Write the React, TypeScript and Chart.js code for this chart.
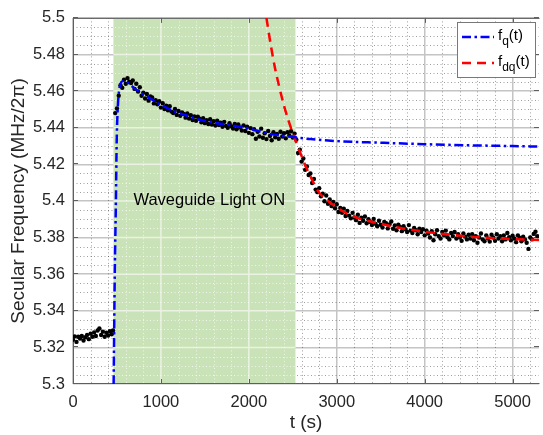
import React, { useEffect, useRef } from 'react';
import { Chart, registerables } from 'chart.js';

Chart.register(...registerables);

// ---------- axes ----------
const xRange = [0, 5300];
const yRange = [5.3, 5.5];
const xTicks = [0, 1000, 2000, 3000, 4000, 5000];
const xTickLabels = ['0', '1000', '2000', '3000', '4000', '5000'];
const yTicks = [5.3, 5.32, 5.34, 5.36, 5.38, 5.4, 5.42, 5.44, 5.46, 5.48, 5.5];
const yTickLabels = ['5.3', '5.32', '5.34', '5.36', '5.38', '5.4', '5.42', '5.44', '5.46', '5.48', '5.5'];
const xMinorStep = 200;
const yMinorStep = 0.005;
const xTitle = 't (s)';
const yTitle = 'Secular Frequency (MHz/2π)';

// ---------- light-on window ----------
const lightOnWindow = [460, 2530];
const lightLabel = 'Waveguide Light ON';
const lightLabelPos = [1550, 5.4];

// ---------- fit f_q(t) ----------
const fqT = [462, 475, 488, 496, 507, 530, 565, 600, 650, 700, 790, 870, 1000, 1170, 1300, 1430, 1600, 1800, 2000, 2200, 2350, 2530, 2700, 3000, 3500, 4000, 4500, 5000, 5300];
const fqF = [5.300, 5.360, 5.400, 5.430, 5.4486, 5.4620, 5.4654, 5.4650, 5.4635, 5.4615, 5.4584, 5.4562, 5.4525, 5.4486, 5.4465, 5.4445, 5.4428, 5.4413, 5.4395, 5.4370, 5.4358, 5.4348, 5.4338, 5.4327, 5.4318, 5.4310, 5.4304, 5.4300, 5.4297];

// ---------- fit f_dq(t) ----------
const fdqT = [2200, 2250, 2300, 2350, 2400, 2450, 2500, 2550, 2600, 2650, 2700, 2750, 2800, 2900, 3000, 3100, 3250, 3500, 3750, 4000, 4250, 4500, 4750, 5000, 5300];
const fdqF = [5.5000, 5.4850, 5.4720, 5.4615, 5.4520, 5.4440, 5.4370, 5.4305, 5.4245, 5.4185, 5.4135, 5.4085, 5.4045, 5.4000, 5.3965, 5.3935, 5.3905, 5.3875, 5.3850, 5.3832, 5.3818, 5.3806, 5.3798, 5.3792, 5.3787];

// ---------- measured data (before light on) ----------
const preT = [0, 20, 40, 60, 80, 100, 120, 140, 160, 180, 200, 220, 240, 260, 280, 300, 320, 340, 360, 380, 400, 420, 440, 455];
const preF = [5.3242, 5.3260, 5.3230, 5.3258, 5.3248, 5.3262, 5.3238, 5.3255, 5.3268, 5.3245, 5.3275, 5.3258, 5.3282, 5.3262, 5.3292, 5.3303, 5.3268, 5.3286, 5.3258, 5.3280, 5.3265, 5.3288, 5.3272, 5.3292];

// ---------- measured data (light on) ----------
const onT = [480, 500, 520, 540, 560, 580, 600, 620, 640, 660, 680, 700, 720, 740, 760, 780, 800, 820, 840, 860, 880, 900, 920, 940, 960, 980,
  1000, 1020, 1040, 1060, 1080, 1100, 1120, 1140, 1160, 1180, 1200, 1220, 1240, 1260, 1280, 1300, 1320, 1340, 1360, 1380,
  1400, 1420, 1440, 1460, 1480, 1500, 1520, 1540, 1560, 1580, 1600, 1620, 1640, 1660, 1680, 1700, 1720, 1740, 1760, 1780,
  1800, 1820, 1840, 1860, 1880, 1900, 1920, 1940, 1960, 1980, 2000, 2020, 2040, 2060, 2080, 2100, 2120, 2140, 2160, 2180,
  2200, 2220, 2240, 2260, 2280, 2300, 2320, 2340, 2360, 2380, 2400, 2420, 2440, 2460, 2480, 2500, 2520];
const onF = [5.4480, 5.4505, 5.4575, 5.4632, 5.4618, 5.4662, 5.4640, 5.4671, 5.4652, 5.4644, 5.4658, 5.4612, 5.4640, 5.4598, 5.4621, 5.4575, 5.4592, 5.4560, 5.4584, 5.4548, 5.4571, 5.4565, 5.4533, 5.4550, 5.4528, 5.4545,
  5.4510, 5.4534, 5.4502, 5.4520, 5.4495, 5.4518, 5.4488, 5.4480, 5.4502, 5.4470, 5.4491, 5.4465, 5.4484, 5.4475, 5.4455, 5.4478, 5.4450, 5.4468, 5.4442, 5.4461,
  5.4438, 5.4460, 5.4449, 5.4430, 5.4452, 5.4425, 5.4441, 5.4420, 5.4447, 5.4418, 5.4435, 5.4412, 5.4439, 5.4415, 5.4428, 5.4405, 5.4432, 5.4410, 5.4400, 5.4425,
  5.4408, 5.4396, 5.4420, 5.4392, 5.4418, 5.4401, 5.4385, 5.4412, 5.4382, 5.4406, 5.4372, 5.4398, 5.4365, 5.4392, 5.4340, 5.4378, 5.4352, 5.4395, 5.4345, 5.4370,
  5.4338, 5.4382, 5.4355, 5.4332, 5.4375, 5.4348, 5.4366, 5.4340, 5.4378, 5.4352, 5.4370, 5.4342, 5.4375, 5.4358, 5.4381, 5.4347, 5.4368];

// ---------- measured data (after light off) ----------
const postT = [2540, 2560, 2580, 2600, 2620, 2640, 2660, 2680, 2700, 2720, 2740, 2760, 2780, 2800, 2820, 2840, 2860, 2880, 2900, 2920, 2940, 2960, 2980,
  3000, 3020, 3040, 3060, 3080, 3100, 3120, 3140, 3160, 3180, 3200, 3220, 3240, 3260, 3280, 3300, 3320, 3340, 3360, 3380,
  3400, 3420, 3440, 3460, 3480, 3500, 3520, 3540, 3560, 3580, 3600, 3620, 3640, 3660, 3680, 3700, 3720, 3740, 3760, 3780,
  3800, 3820, 3840, 3860, 3880, 3900, 3920, 3940, 3960, 3980, 4000, 4020, 4040, 4060, 4080, 4100, 4120, 4140, 4160, 4180,
  4200, 4220, 4240, 4260, 4280, 4300, 4320, 4340, 4360, 4380, 4400, 4420, 4440, 4460, 4480, 4500, 4520, 4540, 4560, 4580,
  4600, 4620, 4640, 4660, 4680, 4700, 4720, 4740, 4760, 4780, 4800, 4820, 4840, 4860, 4880, 4900, 4920, 4940, 4960, 4980,
  5000, 5020, 5040, 5060, 5080, 5100, 5120, 5140, 5160, 5180, 5200, 5220, 5240, 5260, 5280];
const postF = [5.4335, 5.4262, 5.4280, 5.4215, 5.4232, 5.4170, 5.4188, 5.4142, 5.4150, 5.4098, 5.4120, 5.4062, 5.4048, 5.4070, 5.4025, 5.4040, 5.3998, 5.4030, 5.3985, 5.4008, 5.3972, 5.3995, 5.3960,
  5.3982, 5.3940, 5.3962, 5.3935, 5.3958, 5.3918, 5.3945, 5.3920, 5.3905, 5.3935, 5.3910, 5.3895, 5.3925, 5.3880, 5.3908, 5.3892, 5.3915, 5.3878, 5.3900, 5.3885,
  5.3868, 5.3902, 5.3875, 5.3862, 5.3892, 5.3870, 5.3855, 5.3885, 5.3878, 5.3850, 5.3872, 5.3888, 5.3848, 5.3866, 5.3840, 5.3870, 5.3858, 5.3835, 5.3862, 5.3845,
  5.3830, 5.3868, 5.3838, 5.3825, 5.3852, 5.3840, 5.3818, 5.3848, 5.3830, 5.3845, 5.3812, 5.3838, 5.3822, 5.3800, 5.3835, 5.3785, 5.3818, 5.3840, 5.3808, 5.3795,
  5.3830, 5.3812, 5.3838, 5.3802, 5.3790, 5.3825, 5.3808, 5.3830, 5.3795, 5.3818, 5.3800, 5.3782, 5.3822, 5.3805, 5.3790, 5.3815, 5.3795, 5.3818, 5.3785, 5.3808,
  5.3772, 5.3800, 5.3822, 5.3790, 5.3780, 5.3812, 5.3795, 5.3778, 5.3815, 5.3800, 5.3782, 5.3818, 5.3795, 5.3808, 5.3780, 5.3812, 5.3790, 5.3825, 5.3802, 5.3785,
  5.3810, 5.3795, 5.3775, 5.3812, 5.3798, 5.3780, 5.3805, 5.3790, 5.3772, 5.3738, 5.3800, 5.3790, 5.3820, 5.3832, 5.3808];

// ---------- legend ----------
const legendEntries = [
  { main: 'f', sub: 'q', tail: '(t)', color: '#0000ff', dash: [9, 3.5, 2.5, 3.5] },
  { main: 'f', sub: 'dq', tail: '(t)', color: '#ff0000', dash: [9, 6] },
];

const FONT = "'Liberation Sans', Arial, Helvetica, sans-serif";
const toPts = (t: number[], f: number[]) => t.map((v, i) => ({ x: v, y: f[i] }));

const decorPlugin = {
  id: 'decor',
  beforeDatasetsDraw(chart: any) {
    const { ctx, chartArea: a, scales } = chart;
    const x = scales.x;
    const y = scales.y;
    const drawMinor = (color: string) => {
      ctx.save();
      ctx.strokeStyle = color;
      ctx.lineWidth = 1;
      ctx.setLineDash([1, 2.5]);
      ctx.beginPath();
      const nx = Math.round((xRange[1] - xRange[0]) / xMinorStep);
      for (let k = 1; k <= nx; k++) {
        if (k % 5 === 0) continue;
        const px = Math.round(x.getPixelForValue(xRange[0] + k * xMinorStep)) + 0.5;
        if (px >= a.right) continue;
        ctx.moveTo(px, a.top);
        ctx.lineTo(px, a.bottom);
      }
      const ny = Math.round((yRange[1] - yRange[0]) / yMinorStep);
      for (let k = 1; k < ny; k++) {
        if (k % 4 === 0) continue;
        const py = Math.round(y.getPixelForValue(yRange[0] + k * yMinorStep)) + 0.5;
        ctx.moveTo(a.left, py);
        ctx.lineTo(a.right, py);
      }
      ctx.stroke();
      ctx.restore();
    };
    const drawMajor = (color: string) => {
      ctx.save();
      ctx.strokeStyle = color;
      ctx.lineWidth = 1.5;
      ctx.beginPath();
      xTicks.forEach((v) => {
        const px = x.getPixelForValue(v);
        ctx.moveTo(px, a.top);
        ctx.lineTo(px, a.bottom);
      });
      yTicks.forEach((v) => {
        const py = y.getPixelForValue(v);
        ctx.moveTo(a.left, py);
        ctx.lineTo(a.right, py);
      });
      ctx.stroke();
      ctx.restore();
    };

    ctx.save();
    ctx.beginPath();
    ctx.rect(a.left, a.top, a.right - a.left, a.bottom - a.top);
    ctx.clip();
    drawMinor('rgba(0,0,0,0.38)');

    // light-on patch
    const p0 = x.getPixelForValue(lightOnWindow[0]);
    const p1 = x.getPixelForValue(lightOnWindow[1]);
    ctx.fillStyle = 'rgb(202,226,184)';
    ctx.fillRect(p0, a.top, p1 - p0, a.bottom - a.top);
    ctx.beginPath();
    ctx.rect(p0, a.top, p1 - p0, a.bottom - a.top);
    ctx.clip();
    drawMinor('rgba(255,255,255,0.7)');
    drawMajor('rgba(255,255,255,0.6)');
    ctx.restore();

    // axes box and inward ticks
    ctx.save();
    ctx.strokeStyle = 'rgb(95,95,95)';
    ctx.lineWidth = 1;
    ctx.beginPath();
    ctx.moveTo(a.left + 0.5, a.top + 0.5);
    ctx.lineTo(a.left + 0.5, a.bottom - 0.5);
    ctx.lineTo(a.right + 0.5, a.bottom - 0.5);
    ctx.moveTo(a.left + 0.5, a.top + 0.5);
    ctx.lineTo(a.right + 0.5, a.top + 0.5);
    const tl = 5;
    yTicks.forEach((v) => {
      const py = Math.round(y.getPixelForValue(v)) - 0.5;
      ctx.moveTo(a.left, py);
      ctx.lineTo(a.left + tl, py);
      ctx.moveTo(a.right, py);
      ctx.lineTo(a.right - tl, py);
    });
    xTicks.forEach((v) => {
      const px = Math.round(x.getPixelForValue(v)) + 0.5;
      ctx.moveTo(px, a.bottom);
      ctx.lineTo(px, a.bottom - tl);
      ctx.moveTo(px, a.top);
      ctx.lineTo(px, a.top + tl);
    });
    ctx.stroke();
    ctx.restore();
  },
  afterDatasetsDraw(chart: any) {
    const { ctx, scales } = chart;
    ctx.save();
    ctx.fillStyle = '#000';
    ctx.font = `16.5px ${FONT}`;
    ctx.textAlign = 'center';
    ctx.textBaseline = 'middle';
    ctx.fillText(lightLabel, scales.x.getPixelForValue(lightLabelPos[0]), scales.y.getPixelForValue(lightLabelPos[1]));
    ctx.restore();
  },
  afterDraw(chart: any) {
    const { ctx } = chart;
    ctx.save();
    const bx = 457.5, by = 22.5, bw = 78, bh = 55;
    ctx.fillStyle = '#ffffff';
    ctx.fillRect(bx, by, bw, bh);
    ctx.strokeStyle = 'rgb(120,120,120)';
    ctx.lineWidth = 1;
    ctx.strokeRect(bx, by, bw, bh);
    legendEntries.forEach((e, i) => {
      const base = 40 + i * 26;
      ctx.save();
      ctx.strokeStyle = e.color;
      ctx.lineWidth = 2.5;
      ctx.setLineDash(e.dash);
      ctx.beginPath();
      ctx.moveTo(462, base - 3);
      ctx.lineTo(494, base - 3);
      ctx.stroke();
      ctx.restore();
      ctx.fillStyle = '#000';
      ctx.textAlign = 'left';
      ctx.textBaseline = 'alphabetic';
      let tx = 498;
      ctx.font = `15px ${FONT}`;
      ctx.fillText(e.main, tx, base);
      tx += ctx.measureText(e.main).width;
      ctx.font = `12px ${FONT}`;
      ctx.fillText(e.sub, tx, base + 5);
      tx += ctx.measureText(e.sub).width;
      ctx.font = `15px ${FONT}`;
      ctx.fillText(e.tail, tx, base);
    });
    ctx.restore();
  },
};

export default function App() {
  const ref = useRef<HTMLCanvasElement>(null);
  useEffect(() => {
    if (!ref.current) return;
    const tickFont = { family: FONT, size: 16.5 };
    const titleFont = { family: FONT, size: 19 };
    const chart = new Chart(ref.current, {
      type: 'scatter',
      data: {
        datasets: [
          {
            type: 'line',
            label: 'f_q(t)',
            data: toPts(fqT, fqF),
            borderColor: '#0000ff',
            borderWidth: 2.5,
            borderDash: [9, 3.5, 2.5, 3.5],
            pointRadius: 0,
            fill: false,
            cubicInterpolationMode: 'monotone',
            order: 0,
          } as any,
          {
            type: 'line',
            label: 'f_dq(t)',
            data: toPts(fdqT, fdqF),
            borderColor: '#ff0000',
            borderWidth: 2.5,
            borderDash: [9, 6],
            pointRadius: 0,
            fill: false,
            cubicInterpolationMode: 'monotone',
            order: 0,
          } as any,
          {
            type: 'scatter',
            label: 'data',
            data: [...toPts(preT, preF), ...toPts(onT, onF), ...toPts(postT, postF)],
            backgroundColor: '#000000',
            borderColor: '#000000',
            borderWidth: 0,
            pointRadius: 2.2,
            order: 1,
          } as any,
        ],
      },
      options: {
        animation: false,
        responsive: false,
        devicePixelRatio: 1,
        events: [],
        layout: { padding: { top: 13, right: 0, left: 0, bottom: 0 } },
        plugins: { legend: { display: false }, tooltip: { enabled: false } },
        scales: {
          x: {
            type: 'linear',
            min: xRange[0],
            max: xRange[1],
            afterBuildTicks: (s: any) => { s.ticks = xTicks.map((v) => ({ value: v })); },
            afterFit: (s: any) => { s.height = 51; },
            ticks: {
              font: tickFont,
              color: '#262626',
              padding: 9,
              maxRotation: 0,
              callback: (v: any) => { const i = xTicks.indexOf(Number(v)); return i >= 0 ? xTickLabels[i] : ''; },
            },
            grid: { color: 'rgb(196,196,196)', lineWidth: 1.5, drawTicks: false },
            border: { display: false },
            title: { display: true, text: xTitle, font: titleFont, color: '#262626', padding: { top: 0, bottom: 1 } },
          },
          y: {
            type: 'linear',
            min: yRange[0],
            max: yRange[1],
            afterBuildTicks: (s: any) => { s.ticks = yTicks.map((v) => ({ value: v })); },
            afterFit: (s: any) => { s.width = 73; },
            ticks: {
              font: tickFont,
              color: '#262626',
              padding: 8,
              callback: (v: any) => { const i = yTicks.findIndex((t) => Math.abs(t - Number(v)) < 1e-9); return i >= 0 ? yTickLabels[i] : ''; },
            },
            grid: { color: 'rgb(196,196,196)', lineWidth: 1.5, drawTicks: false },
            border: { display: false },
            title: { display: true, text: yTitle, font: titleFont, color: '#262626', padding: { top: 7, bottom: 0 } },
          },
        },
      },
      plugins: [decorPlugin],
    } as any);
    return () => chart.destroy();
  }, []);
  return (
    <div style={{ position: 'absolute', left: 0, top: 0, width: 543, height: 435, background: '#fff' }}>
      <canvas ref={ref} width={543} height={435} style={{ display: 'block', width: 543, height: 435 }} />
    </div>
  );
}
